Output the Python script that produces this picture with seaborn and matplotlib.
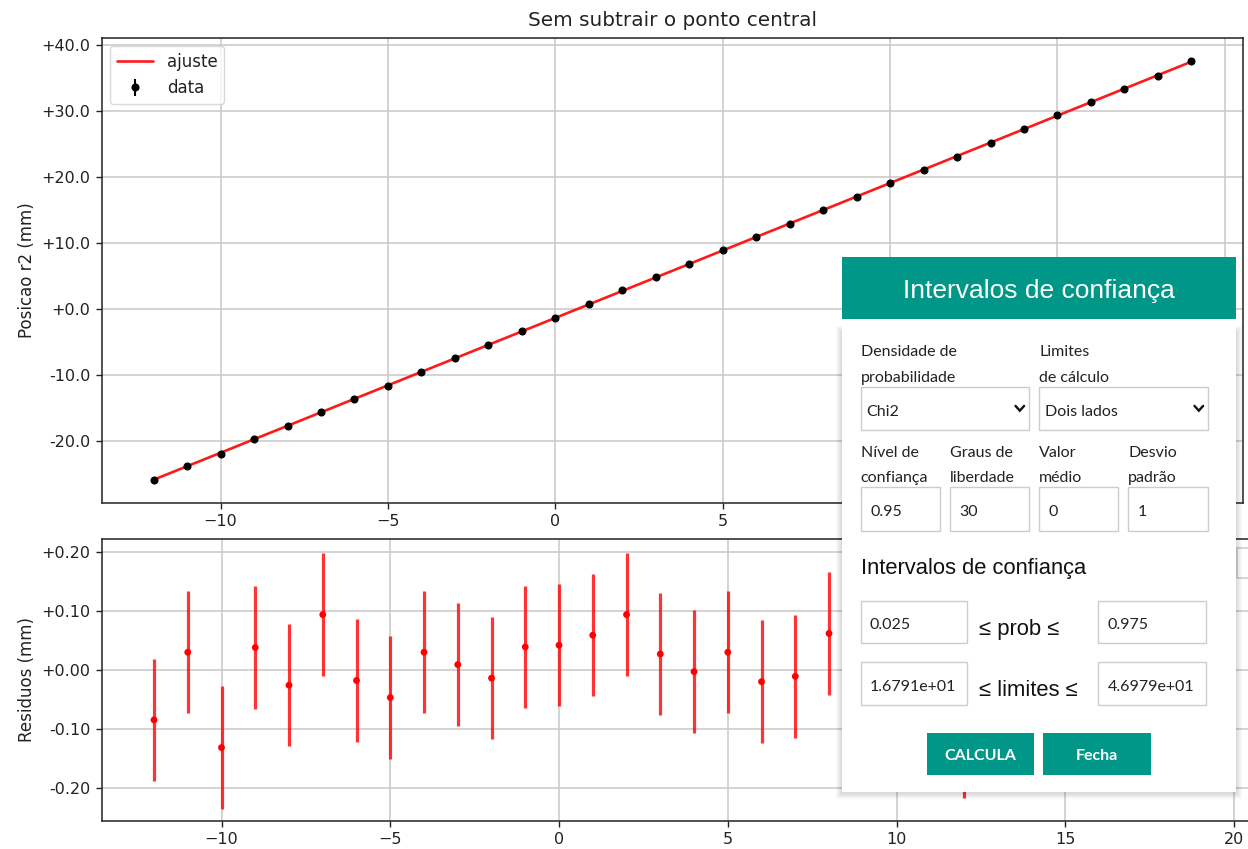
import numpy as np
import pandas as pd
import matplotlib
matplotlib.use("Agg")
import matplotlib.pyplot as plt
import seaborn as sns
from matplotlib.patches import Rectangle
from matplotlib.ticker import MultipleLocator, FuncFormatter

# ---------------- data ----------------
x_vals = [-12, -11, -10, -9, -8, -7, -6, -5, -4, -3, -2, -1, 0, 1, 2, 3,
          4, 5, 6, 7, 8, 9, 10, 11, 12, 13, 14, 15, 16, 17, 18, 19]
fit_vals = [-25.930, -23.885, -21.840, -19.795, -17.750, -15.705, -13.660, -11.615,
            -9.570, -7.525, -5.480, -3.435, -1.390, 0.655, 2.700, 4.745,
            6.790, 8.835, 10.880, 12.925, 14.970, 17.015, 19.060, 21.105,
            23.150, 25.195, 27.240, 29.285, 31.330, 33.375, 35.420, 37.465]
data_vals = [-26.015, -23.855, -21.972, -19.757, -17.776, -15.611, -13.678, -11.662,
             -9.540, -7.516, -5.494, -3.396, -1.348, 0.714, 2.794, 4.772,
             6.787, 8.865, 10.860, 12.914, 15.032, 16.975, 19.110, 21.085,
             23.037, 25.205, 27.210, 29.345, 31.280, 33.395, 35.360, 37.495]
resid_vals = [-0.085, 0.030, -0.132, 0.038, -0.026, 0.094, -0.018, -0.047,
              0.030, 0.009, -0.014, 0.039, 0.042, 0.059, 0.094, 0.027,
              -0.003, 0.030, -0.020, -0.011, 0.062, -0.040, 0.050, -0.020,
              -0.113, 0.010, -0.030, 0.060, -0.050, 0.020, -0.060, 0.030]
sigma = 0.104

title_text = "Sem subtrair o ponto central"
ylabel_top = "Posicao r2 (mm)"
ylabel_bot = "Residuos (mm)"
legend_fit = "ajuste"
legend_data = "data"
top_xtick_shown = [-10, -5, 0, 5]   # the others are hidden behind the dialog

# dialog texts
dlg_title = "Intervalos de confiança"
sel_labels = [["Densidade de", "probabilidade"], ["Limites", "de cálculo"]]
sel_values = ["Chi2", "Dois lados"]
inp_labels = [["Nível de", "confiança"], ["Graus de", "liberdade"],
              ["Valor", "médio"], ["Desvio", "padrão"]]
inp_values = ["0.95", "30", "0", "1"]
sub_title = "Intervalos de confiança"
prob_row = ["0.025", "≤ prob ≤", "0.975"]
lim_row = ["1.6791e+01", "≤ limites ≤", "4.6979e+01"]
buttons = ["CALCULA", "Fecha"]

# ---------------- style ----------------
sns.set_style("ticks")
plt.rcParams["font.family"] = ["DejaVu Sans"]
plt.rcParams["text.color"] = "#222222"
plt.rcParams["axes.edgecolor"] = "#222222"
plt.rcParams["xtick.color"] = "#222222"
plt.rcParams["ytick.color"] = "#222222"
plt.rcParams["axes.labelcolor"] = "#222222"

W, H = 1248, 849
fig = plt.figure(figsize=(W / 100, H / 100), dpi=100)
fig.patch.set_facecolor("white")


def fbox(l, t, r, b):
    return [l / W, 1 - b / H, (r - l) / W, (b - t) / H]


ax1 = fig.add_axes(fbox(101.7, 37.7, 1243.3, 503.3))
ax2 = fig.add_axes(fbox(101.7, 539.3, 1252.6, 820.5))

TEAL = "#009688"
GRID = "#c8c8c8"

# ---------------- top panel ----------------
df_top = pd.DataFrame({"x": x_vals, "fit": fit_vals, "y": data_vals})
sns.lineplot(data=df_top, x="x", y="fit", color="#ff1a1a", lw=1.9,
             label=legend_fit, ax=ax1, sort=False, estimator=None, zorder=2)
ax1.errorbar(df_top["x"], df_top["y"], yerr=sigma, fmt="o", color="black",
             ms=4.8, elinewidth=1.5, label=legend_data, zorder=3)
ax1.set_xlim(-13.55, 20.55)
ax1.set_ylim(-29.5, 41.1)
ax1.xaxis.set_major_locator(MultipleLocator(5))
ax1.xaxis.set_major_formatter(FuncFormatter(
    lambda v, p: (f"{int(round(v))}".replace("-", "\u2212")
                  if int(round(v)) in top_xtick_shown else "")))
ax1.yaxis.set_major_locator(MultipleLocator(10))
ax1.yaxis.set_major_formatter(FuncFormatter(
    lambda v, p: "+0.0" if abs(v) < 1e-9 else f"{v:+.1f}"))
ax1.grid(True, color=GRID, lw=1.1)
ax1.set_axisbelow(True)
ax1.set_title(title_text, fontsize=14.4, pad=8.5)
ax1.set_xlabel("")
ax1.set_ylabel(ylabel_top, fontsize=12)
ax1.tick_params(labelsize=11.5, width=1.0, length=4.5)
ax1.legend(loc="upper left", fontsize=12, handlelength=2.2, framealpha=0.8,
           edgecolor="#d0d0d0", fancybox=True)

# ---------------- bottom panel ----------------
df_bot = pd.DataFrame({"x": x_vals, "r": resid_vals})
ax2.errorbar(df_bot["x"], df_bot["r"], yerr=sigma, fmt="none", ecolor="red",
             elinewidth=2.3, alpha=0.8, zorder=2)
sns.scatterplot(data=df_bot, x="x", y="r", color="red", s=24, edgecolor="none",
                ax=ax2, zorder=3)
ax2.set_xlim(-13.55, 20.55)
ax2.set_ylim(-0.256, 0.222)
ax2.xaxis.set_major_locator(MultipleLocator(5))
ax2.yaxis.set_major_locator(MultipleLocator(0.1))
ax2.yaxis.set_major_formatter(FuncFormatter(
    lambda v, p: "+0.00" if abs(v) < 1e-9 else f"{v:+.2f}"))
ax2.grid(True, color=GRID, lw=1.1)
ax2.set_axisbelow(True)
ax2.set_xlabel("")
ax2.set_ylabel(ylabel_bot, fontsize=12)
ax2.tick_params(labelsize=11.5, width=1.0, length=4.5)

for a in (ax1, ax2):
    for s in a.spines.values():
        s.set_visible(True)
        s.set_linewidth(1.1)
        s.set_color("#222222")

# ---------------- dialog overlay ----------------
ov = fig.add_axes([0, 0, 1, 1], zorder=10)
ov.set_xlim(0, W)
ov.set_ylim(H, 0)
ov.axis("off")
ov.patch.set_alpha(0)

FORM = ["Lato", "DejaVu Sans"]
SANS = ["Liberation Sans", "DejaVu Sans"]


def rect(l, t, r, b, fc="white", ec="none", lw=0.0, alpha=1.0):
    ov.add_patch(Rectangle((l, t), r - l, b - t, facecolor=fc, edgecolor=ec,
                           lw=lw, alpha=alpha))


def txt(x, y, s, size=11.5, family=FORM, color="#222222", ha="left",
        va="baseline", weight="normal"):
    ov.text(x, y, s, fontsize=size, family=family, color=color, ha=ha,
            va=va, fontweight=weight)


# small widget at right edge
rect(1237, 548, 1262, 578, fc="white", ec="#d0d0d0", lw=1.2)

PL, PR, PT, PB = 842, 1236, 331, 792
# soft shadow of the panel
for i in range(6, 0, -1):
    rect(PL - i, PT - i + 1, PR + i, PB + i + 1, fc="black", alpha=0.022)
# white container and header
rect(PL, 257.3, PR, PB, fc="white")
rect(PL, 257.3, PR, 319.3, fc=TEAL)
txt((PL + PR) / 2, 298.3, dlg_title, size=19.0, family=SANS, color="white",
    ha="center")
rect(PL, PT, PR, PB, fc="white")

BORDER = "#cccccc"
# select rows
sel_x = [(860.7, 1029.3), (1039.3, 1208.3)]
for (l, r), lab, val in zip(sel_x, sel_labels, sel_values):
    txt(l, 356.0, lab[0])
    txt(l, 381.7, lab[1])
    rect(l, 387.3, r, 430.0, fc="white", ec=BORDER, lw=1.0)
    txt(l + 5.5, 415.7, val)
    cx, cy = r - 9.5, 408.3
    ov.plot([cx - 4.3, cx, cx + 4.3], [cy - 2.4, cy + 2.4, cy - 2.4],
            color="#111111", lw=1.7, solid_joinstyle="miter")

# input rows
inp_x = [(860.7, 940.0), (950.0, 1029.3), (1039.3, 1118.3), (1128.3, 1208.3)]
for (l, r), lab, val in zip(inp_x, inp_labels, inp_values):
    txt(l, 456.5, lab[0])
    txt(l, 481.7, lab[1])
    rect(l, 487.3, r, 531.0, fc="white", ec=BORDER, lw=1.0)
    txt(l + 9.5, 515.5, val)

# sub title
txt(860.7, 574.0, sub_title, size=15.8, family=SANS, color="#111111")

# prob / limits rows
for (t, b), row, base, mid_base in [((600.7, 643.3), prob_row, 629.3, 635.0),
                                    ((662.3, 705.0), lim_row, 691.0, 696.0)]:
    rect(860.7, t, 966.7, b, fc="white", ec=BORDER, lw=1.0)
    rect(1098.3, t, 1205.7, b, fc="white", ec=BORDER, lw=1.0)
    txt(870.0, base, row[0])
    txt(979.0, mid_base, row[1], size=15.8, family=SANS, color="#111111")
    txt(1108.0, base, row[2])

# buttons
for (l, r), lab in zip([(927.0, 1034.3), (1043.3, 1150.7)], buttons):
    rect(l, 733.0, r, 775.0, fc=TEAL)
    txt((l + r) / 2, 760.5, lab, size=11.5, color="white", ha="center",
        weight="bold")

fig.savefig("out.png", dpi=100, facecolor="white")
